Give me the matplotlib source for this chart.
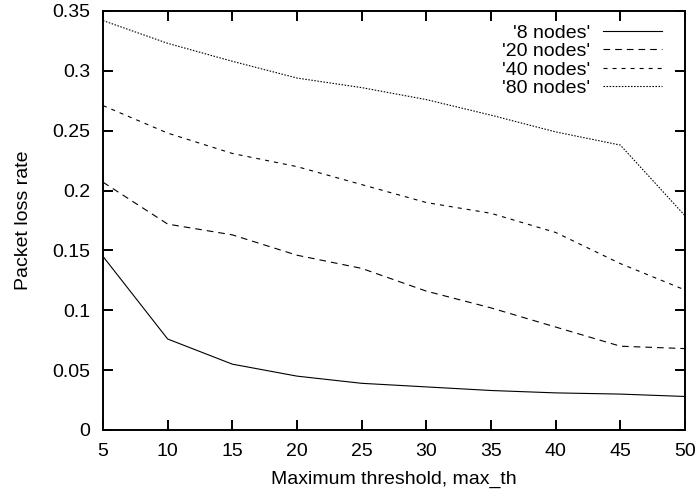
import matplotlib
matplotlib.use("Agg")
import matplotlib.pyplot as plt
from matplotlib.ticker import FuncFormatter, MultipleLocator

thresholds = [5, 10, 15, 20, 25, 30, 35, 40, 45, 50]
nodes8 = [0.145, 0.076, 0.055, 0.045, 0.039, 0.036, 0.033, 0.031, 0.030, 0.028]
nodes20 = [0.207, 0.172, 0.163, 0.146, 0.135, 0.116, 0.102, 0.086, 0.070, 0.068]
nodes40 = [0.271, 0.248, 0.231, 0.220, 0.205, 0.190, 0.181, 0.165, 0.139, 0.117]
nodes80 = [0.342, 0.323, 0.308, 0.294, 0.286, 0.276, 0.263, 0.249, 0.238, 0.179]
series_labels = ["'8 nodes'", "'20 nodes'", "'40 nodes'", "'80 nodes'"]
x_label = "Maximum threshold, max_th"
y_label = "Packet loss rate"

plt.rcParams['font.family'] = ['Liberation Sans', 'DejaVu Sans']
plt.rcParams['font.size'] = 14
plt.rcParams['lines.scale_dashes'] = False

W, H = 699, 495
fig = plt.figure(figsize=(W / 100, H / 100), dpi=100)
L, R, T, B = 103, 685, 11, 430
ax = fig.add_axes([L / W, 1 - B / H, (R - L) / W, (B - T) / H])

styles = ['-', (0, (4.8, 3.6)), (0, (2.9, 3.6)), (0, (1.1, 1.1))]
all_series = [nodes8, nodes20, nodes40, nodes80]
for ys, ls in zip(all_series, styles):
    ax.plot(thresholds, ys, color='black', lw=0.8, linestyle=ls)

ax.set_xlim(5, 50)
ax.set_ylim(0, 0.35)
ax.xaxis.set_major_locator(MultipleLocator(5))
ax.yaxis.set_major_locator(MultipleLocator(0.05))
ax.yaxis.set_major_formatter(FuncFormatter(lambda v, p: '%g' % round(v, 4)))
ax.xaxis.set_major_formatter(FuncFormatter(lambda v, p: '%g' % v))
ax.tick_params(direction='in', length=7.2, width=1.4, top=True, right=True,
               labelsize=14)
ax.tick_params(axis='x', pad=9)
ax.tick_params(axis='y', pad=9)
for s in ax.spines.values():
    s.set_linewidth(1.4)

ax.set_xlabel(x_label, fontsize=14, labelpad=8)
ax.set_ylabel(y_label, fontsize=14)
ax.yaxis.set_label_coords((32 - L) / (R - L), 0.5)

# key (gnuplot style: right-justified text, sample on the right)
def fy(py):
    return (B - py) / (B - T)
text_x = (590 - L) / (R - L)
lx0 = (603 - L) / (R - L)
lx1 = (662 - L) / (R - L)
baselines = [37.7, 56.2, 74.7, 93.2]
for lab, ls, bl in zip(series_labels, styles, baselines):
    ax.text(text_x, fy(bl), lab, transform=ax.transAxes, ha='right',
            va='baseline', fontsize=14)
    ax.plot([lx0, lx1], [fy(bl - 7)] * 2, transform=ax.transAxes,
            color='black', lw=0.8, linestyle=ls, clip_on=False)

fig.savefig('out.png', dpi=100)
